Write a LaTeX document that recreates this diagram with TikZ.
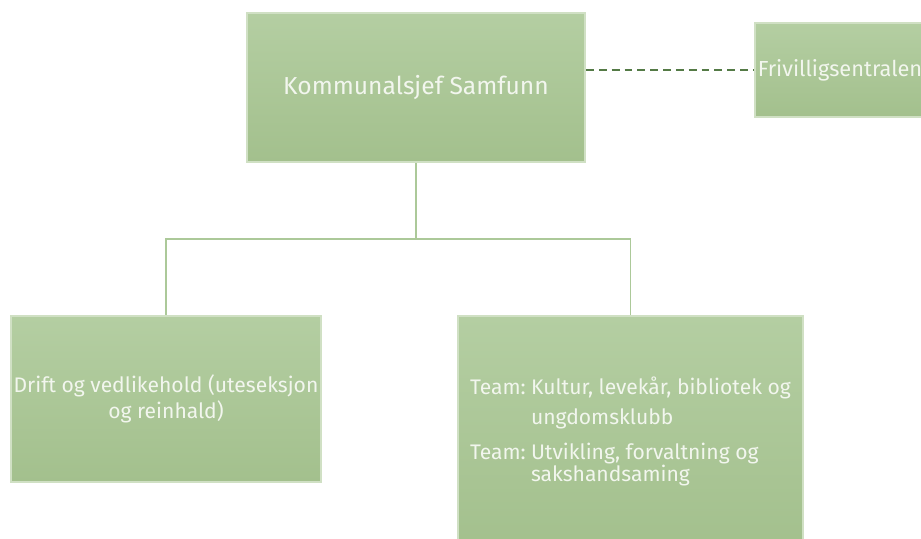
\documentclass[tikz,border=0pt]{standalone}
\usepackage{fontspec}
\setmainfont{Fira Sans}
\usepackage{xcolor}
\usepackage{tikz}
\usetikzlibrary{positioning, calc}
\definecolor{boxtop}{RGB}{180, 206, 162}
\definecolor{boxbottom}{RGB}{163, 192, 141}
\definecolor{boxedge}{RGB}{208, 224, 196}
\definecolor{boxtext}{RGB}{242, 246, 238}
\definecolor{linkgreen}{RGB}{172, 201, 153}
\definecolor{dashgreen}{RGB}{84, 122, 70}

\begin{document}
\begin{tikzpicture}[
    orgbox/.style={rectangle, draw=boxedge, line width=1.2pt, top color=boxtop, bottom color=boxbottom, text=boxtext, inner sep=0pt},
    link/.style={draw=linkgreen, line width=0.9pt},
    dashlink/.style={draw=dashgreen, line width=1.4pt, dash pattern=on 4.5pt off 2.8pt}
]
\clip (0,0) rectangle (18.42,10.76);

\node[orgbox, minimum width=6.76cm, minimum height=2.98cm, font=\fontsize{14}{17}\selectfont] (ks) at (8.32,9.01) {Kommunalsjef Samfunn};
\node[orgbox, minimum width=3.4cm, minimum height=1.88cm, font=\fontsize{12.4}{15}\selectfont] (fri) at (16.8,9.36) {Frivilligsentralen};

\node[orgbox, minimum width=6.2cm, minimum height=3.32cm, align=center, font=\fontsize{12}{15}\selectfont] (drift) at (3.32,2.78) {Drift og vedlikehold (uteseksjon\\og reinhald)};
\node[orgbox, minimum width=6.9cm, minimum height=4.68cm, font=\fontsize{12}{14.4}\selectfont] (team) at (12.61,2.1) {%
  \begin{tabular}{@{}l@{\hspace{3pt}}l@{}}
  Team: & Kultur, levekår, bibliotek og\\[2.6pt]
        & ungdomsklubb\\[5.5pt]
  Team: & Utvikling, forvaltning og\\[-1.4pt]
        & sakshandsaming
  \end{tabular}};

\coordinate (split) at ($(ks.south)+(0,-1.52)$);
\draw[link] (ks.south) -- (split);
\draw[link] (split) -| (drift.north);
\draw[link] (split) -| (team.north);

\draw[dashlink] (fri.west -| ks.east) -- (fri.west);
\end{tikzpicture}
\end{document}
